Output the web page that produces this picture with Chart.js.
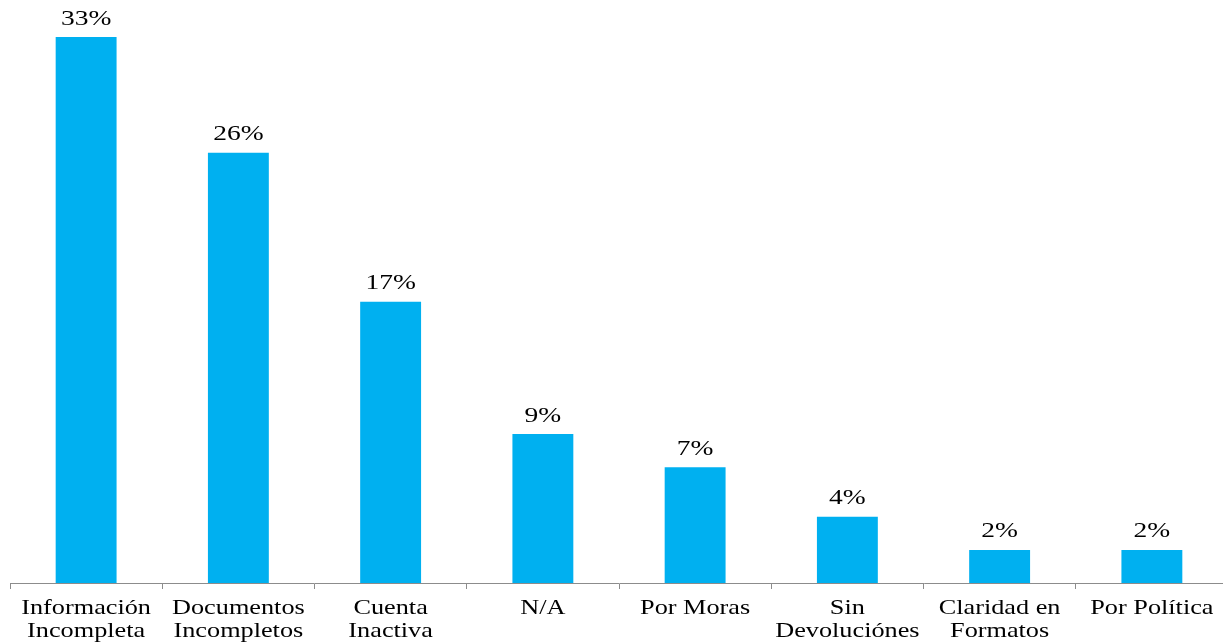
<!DOCTYPE html>
<html lang="es">
<head>
<meta charset="utf-8">
<title>Motivos de rechazo</title>
<script src="https://cdn.jsdelivr.net/npm/chart.js@4.4.1/dist/chart.umd.min.js"></script>
<style>
  html, body { margin: 0; padding: 0; background: #ffffff; overflow: hidden; }
  #wrap { width: 1223px; height: 642px; overflow: hidden; }
  #chart { display: block; }
</style>
</head>
<body>
<div id="wrap"><canvas id="chart" width="1228" height="642"></canvas></div>
<script>
const categories = [
  ["Información", "Incompleta"],
  ["Documentos", "Incompletos"],
  ["Cuenta", "Inactiva"],
  ["N/A"],
  ["Por Moras"],
  ["Sin", "Devoluciónes"],
  ["Claridad en", "Formatos"],
  ["Por Política"]
];
const percentages = [33, 26, 17, 9, 7, 4, 2, 2];

const SERIF = '"Liberation Serif", "Times New Roman", serif';
const WIDE = 1.25;   // horizontal stretch of the lettering

function wideText(ctx, text, x, y) {
  ctx.save();
  ctx.translate(x, y);
  ctx.scale(WIDE, 1);
  ctx.fillText(text, 0, 0);
  ctx.restore();
}

// category names under the axis and percentages above the bars
const textLayer = {
  id: 'textLayer',
  afterDraw(chart) {
    const ctx = chart.ctx;
    const xs = chart.scales.x;
    const base = chart.chartArea.bottom;
    ctx.save();
    ctx.fillStyle = '#000000';
    ctx.textAlign = 'center';
    ctx.textBaseline = 'alphabetic';

    ctx.font = '21px ' + SERIF;
    categories.forEach((lines, i) => {
      const x = xs.getPixelForTick(i);
      lines.forEach((line, k) => wideText(ctx, line, x, base + 31 + k * 23));
    });

    ctx.font = '22px ' + SERIF;
    chart.getDatasetMeta(0).data.forEach((bar, i) => {
      wideText(ctx, percentages[i] + '%', bar.x, bar.y - 12.5);
    });
    ctx.restore();
  }
};

function draw() {
  new Chart(document.getElementById('chart'), {
    type: 'bar',
    data: {
      labels: categories.map(l => l.join(' ')),
      datasets: [{
        data: percentages,
        backgroundColor: '#00B0F0',
        borderWidth: 0,
        barPercentage: 0.4,
        categoryPercentage: 1.0
      }]
    },
    options: {
      responsive: false,
      animation: false,
      layout: { padding: { top: 37, left: 10, right: 0, bottom: 53 } },
      plugins: {
        legend: { display: false },
        tooltip: { enabled: false }
      },
      scales: {
        x: {
          offset: true,
          grid: {
            offset: true,
            drawOnChartArea: false,
            drawTicks: true,
            tickLength: 6,
            color: '#8c8c8c'
          },
          border: { display: true, color: '#8c8c8c', width: 1 },
          ticks: { display: false }
        },
        y: {
          display: false,
          min: 0,
          max: 33
        }
      }
    },
    plugins: [textLayer]
  });
}

document.fonts.load('21px "Liberation Serif"').then(draw, draw);
</script>
</body>
</html>
